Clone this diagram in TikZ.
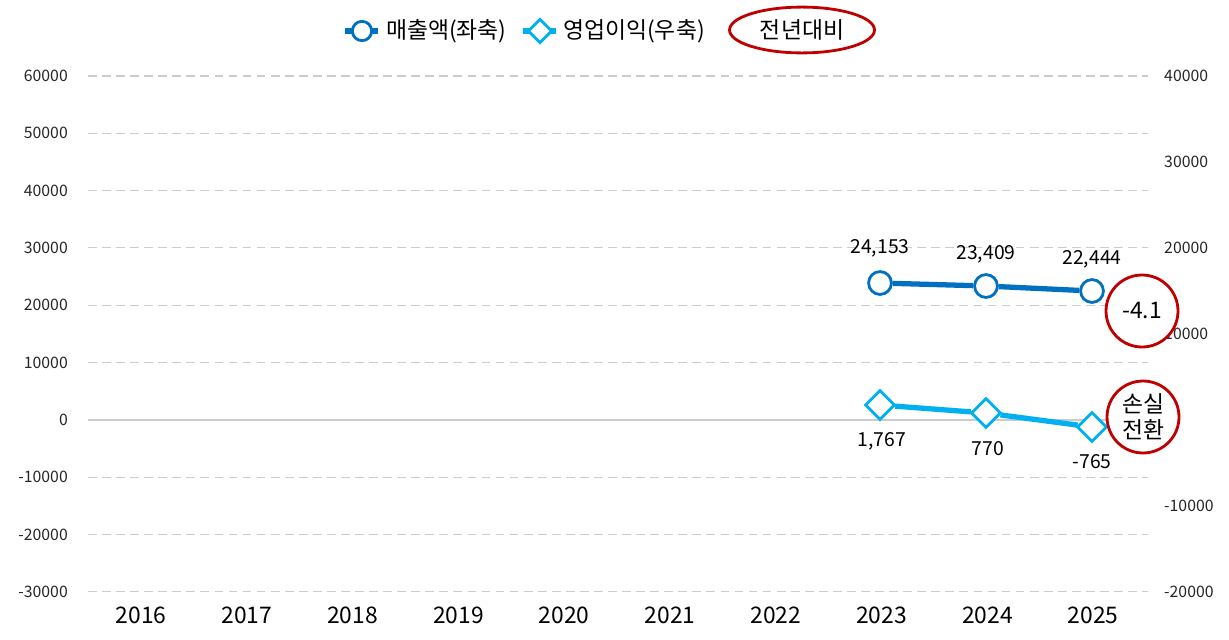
\documentclass[tikz,border=0pt]{standalone}
\usepackage{fontspec}
\setmainfont{Noto Sans CJK KR}
\usetikzlibrary{shapes.geometric}
\definecolor{salesblue}{RGB}{0,112,192}
\definecolor{profitcyan}{RGB}{0,176,240}
\definecolor{markred}{RGB}{192,0,0}
\tikzset{
  grid line/.style={gray!40, dashed, dash pattern=on 5pt off 3pt, line width=0.6pt},
  tick label/.style={font=\fontsize{9}{9}\selectfont, text=black!85},
  year label/.style={font=\fontsize{13}{13}\selectfont},
  value label/.style={font=\fontsize{11}{11}\selectfont},
  sales dot/.style={circle, draw=salesblue, fill=white, line width=1.6pt, minimum size=13pt, inner sep=0pt},
  profit dot/.style={diamond, draw=profitcyan, fill=white, line width=1.6pt, minimum size=17pt, inner sep=0pt},
  sales line/.style={salesblue, line width=3pt},
  profit line/.style={profitcyan, line width=3pt},
  red ring/.style={draw=markred, line width=1.6pt, align=center, font=\fontsize{13}{15}\selectfont}
}
\begin{document}
\begin{tikzpicture}[x=0.02cm, y=-0.02cm]
    \useasboundingbox (0,0) rectangle (1229,639);
    % grid and left axis
    \foreach \v [count=\i from 0] in {60000,50000,40000,30000,20000,10000,0,-10000,-20000,-30000} {
        \pgfmathsetmacro{\yy}{76+57.3*\i}
        \node[tick label, anchor=east] (l\i) at (74,\yy) {\v};
    }
    \foreach \i in {0,1,2,3,4,5,7,8,9} {
        \draw[grid line] (88,{76+57.3*\i}) -- (1148,{76+57.3*\i});
    }
    \draw[gray!40, line width=0.8pt] (88,420) -- (1148,420);
    % right axis
    \foreach \v/\yy in {40000/76, 30000/162, 20000/248, 10000/334, -10000/506, -20000/592} {
        \node[tick label, anchor=west] at (1158,\yy) {\v};
    }
    % years
    \foreach \yr [count=\i from 0] in {2016,...,2025} {
        \node[year label] (yr\yr) at ({141+105.8*\i},615) {\yr};
    }
    % sales
    \node[sales dot] (s23) at (880,283) {};
    \node[sales dot] (s24) at (986,286) {};
    \node[sales dot] (s25) at (1092,291) {};
    \draw[sales line] (s23) -- (s24) -- (s25);
    \node[value label] at (880,248) {24,153};
    \node[value label] at (986,254) {23,409};
    \node[value label] at (1092,259) {22,444};
    % operating profit
    \node[profit dot] (p23) at (880,405) {};
    \node[profit dot] (p24) at (986,413) {};
    \node[profit dot] (p25) at (1092,427) {};
    \draw[profit line] (p23) -- (p24) -- (p25);
    \node[value label] at (882,441) {1,767};
    \node[value label] at (988,449) {770};
    \node[value label] at (1092,462) {-765};
    % year-on-year marks
    \node[red ring, circle, minimum size=72\pgflinewidth, minimum size=1.44cm, fill=white] (yoy1) at (1142,311) {-4.1};
    \node[red ring, circle, minimum size=1.44cm, fill=white, inner sep=0pt] (yoy2) at (1143,417) {손실\\전환};
    % legend
    \coordinate (ls1) at (345,31);
    \coordinate (ls2) at (378,31);
    \draw[sales line] (ls1) -- (ls2);
    \node[sales dot, minimum size=11pt] at (362,31) {};
    \node[anchor=west, font=\fontsize{13}{13}\selectfont] at (380,31) {매출액(좌축)};
    \coordinate (lp1) at (523,31);
    \coordinate (lp2) at (556,31);
    \draw[profit line] (lp1) -- (lp2);
    \node[profit dot, minimum size=14pt] at (540,31) {};
    \node[anchor=west, font=\fontsize{13}{13}\selectfont] at (557,31) {영업이익(우축)};
    \node[red ring, ellipse, minimum width=2.9cm, minimum height=0.72cm] (legyoy) at (802,30) {전년대비};
\end{tikzpicture}
\end{document}
